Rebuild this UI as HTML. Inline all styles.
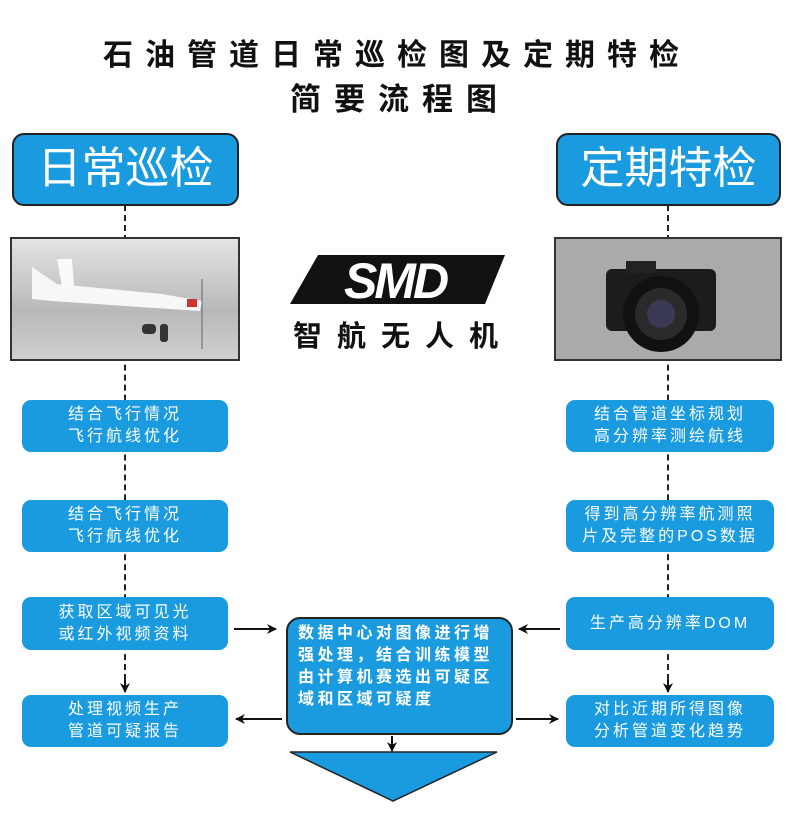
<!DOCTYPE html>
<html><head><meta charset="utf-8"><style>
body{margin:0;width:796px;height:818px;background:#fff;position:relative;overflow:hidden;font-family:"Liberation Sans","Noto Sans CJK SC",sans-serif}
.a{position:absolute}
.t{font-weight:bold;color:#111;white-space:nowrap}
.hdr{background:#1a9be0;border:2px solid #222;border-radius:12px;color:#fff;font-size:44px;text-align:center;line-height:68px;box-sizing:border-box}
.box{background:#1a9be0;border-radius:9px;color:#fff;font-size:16px;letter-spacing:3px;display:flex;align-items:center;justify-content:center;text-align:center;line-height:22px}
.dash{border-left:2px dashed #222;width:0}
.photo{border:2px solid #333;box-sizing:border-box;background:linear-gradient(180deg,#e4e4e4,#b8b8b8 60%,#d0d0d0)}
</style></head><body>
<div class="a t" style="left:103px;top:30px;font-size:30px;letter-spacing:12px">石油管道日常巡检图及定期特检</div>
<div class="a t" style="left:290px;top:74px;font-size:31px;letter-spacing:13px">简要流程图</div>

<div class="a dash" style="left:124px;top:205px;height:485px"></div>
<div class="a dash" style="left:667px;top:205px;height:485px"></div>

<div class="a hdr" style="left:12px;top:133px;width:227px;height:73px">日常巡检</div>
<div class="a hdr" style="left:556px;top:133px;width:225px;height:73px">定期特检</div>

<div class="a photo" style="left:10px;top:237px;width:230px;height:124px">
<svg width="226" height="120"><polygon points="20,28 45,45 150,55 190,62 188,72 40,62 20,60" fill="#f7f7f7"/><polygon points="45,20 60,20 62,48 50,48" fill="#fafafa"/><rect x="130" y="85" width="14" height="10" rx="4" fill="#333"/><rect x="148" y="85" width="8" height="18" rx="3" fill="#333"/><rect x="175" y="60" width="10" height="8" fill="#c33"/><line x1="190" y1="40" x2="190" y2="110" stroke="#666"/></svg></div>
<div class="a photo" style="left:554px;top:237px;width:228px;height:124px;background:#aaa">
<svg width="224" height="120"><rect x="50" y="30" width="110" height="62" rx="6" fill="#1c1c1c"/><rect x="70" y="22" width="30" height="12" fill="#222"/><circle cx="105" cy="75" r="38" fill="#111"/><circle cx="105" cy="75" r="26" fill="#2a2a2a"/><circle cx="105" cy="75" r="14" fill="#3a3a55"/></svg></div>

<svg class="a" style="left:290px;top:252px" width="215" height="55"><path d="M28 3 H215 L195 52 H0 Z" fill="#111"/><text x="105" y="46" font-family="Liberation Sans" font-weight="bold" font-style="italic" font-size="50" fill="#fff" text-anchor="middle" letter-spacing="-3">SMD</text></svg>
<div class="a t" style="left:293px;top:313px;font-size:29px;letter-spacing:15px">智航无人机</div>

<div class="a box" style="left:22px;top:400px;width:206px;height:52px">结合飞行情况<br>飞行航线优化</div>
<div class="a box" style="left:22px;top:500px;width:206px;height:52px">结合飞行情况<br>飞行航线优化</div>
<div class="a box" style="left:22px;top:597px;width:206px;height:53px">获取区域可见光<br>或红外视频资料</div>
<div class="a box" style="left:22px;top:695px;width:206px;height:52px">处理视频生产<br>管道可疑报告</div>

<div class="a box" style="left:566px;top:400px;width:208px;height:52px">结合管道坐标规划<br>高分辨率测绘航线</div>
<div class="a box" style="left:566px;top:500px;width:208px;height:52px">得到高分辨率航测照<br>片及完整的POS数据</div>
<div class="a box" style="left:566px;top:597px;width:208px;height:53px">生产高分辨率DOM</div>
<div class="a box" style="left:566px;top:695px;width:208px;height:52px">对比近期所得图像<br>分析管道变化趋势</div>

<div class="a box" style="left:286px;top:617px;width:227px;height:118px;border:2px solid #222;box-sizing:border-box;border-radius:14px;text-align:left;justify-content:flex-start;padding:0 8px 18px 10px;line-height:22px;font-size:16px;letter-spacing:3.5px;font-weight:bold">数据中心对图像进行增强处理，结合训练模型由计算机赛选出可疑区域和区域可疑度</div>

<svg class="a" style="left:0;top:0" width="796" height="818">
<defs><marker id="m" markerWidth="10" markerHeight="10" refX="9" refY="5" orient="auto" markerUnits="userSpaceOnUse"><path d="M0,0 L10,5 L0,10 L3,5 Z" fill="#111"/></marker></defs>
<g stroke="#111" stroke-width="2" fill="none">
<line x1="234" y1="629" x2="276" y2="629" marker-end="url(#m)"/>
<line x1="282" y1="719" x2="236" y2="719" marker-end="url(#m)"/>
<line x1="560" y1="629" x2="519" y2="629" marker-end="url(#m)"/>
<line x1="516" y1="719" x2="558" y2="719" marker-end="url(#m)"/>
<line x1="392" y1="736" x2="392" y2="751" marker-end="url(#m)"/>
<line x1="125" y1="680" x2="125" y2="692" marker-end="url(#m)"/>
<line x1="668" y1="680" x2="668" y2="692" marker-end="url(#m)"/>
</g>
<polygon points="290,752 497,752 393,801" fill="#1a9be0" stroke="#222" stroke-width="1.5"/>
</svg>
</body></html>
